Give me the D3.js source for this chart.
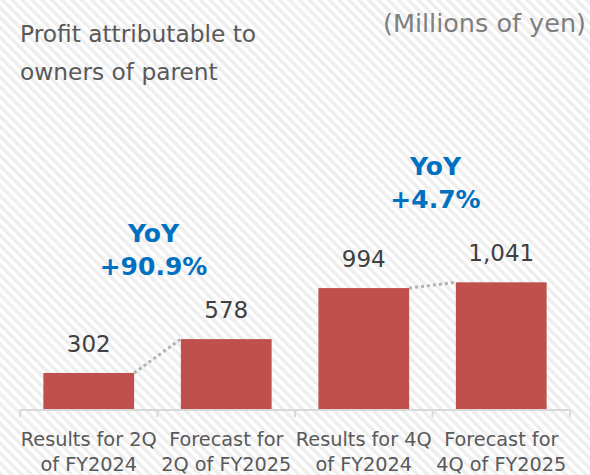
<!DOCTYPE html>
<html>
<head>
<meta charset="utf-8">
<script src="https://cdn.jsdelivr.net/npm/d3@7"></script>
<style>
	body { margin: 0; background: #fff; }
	svg { display: block; font-family: "DejaVu Sans", Verdana, sans-serif; }
</style>
</head>
<body>
<script>
//chart data
var categories = ["Results for 2Q|of FY2024", "Forecast for|2Q of FY2025", "Results for 4Q|of FY2024", "Forecast for|4Q of FY2025"];
var values = [302, 578, 994, 1041];
var valueLabels = ["302", "578", "994", "1,041"];
var yoyLabels = ["+90.9%", "+4.7%"]; //between bar 1-2 and bar 3-4

(function () {
	var width = 590, height = 475;

	var svg = d3.select("body").append("svg")
		.attr("width", width)
		.attr("height", height);

	//striped background
	var defs = svg.append("defs");
	var pat = defs.append("pattern")
		.attr("id", "stripes")
		.attr("patternUnits", "userSpaceOnUse")
		.attr("width", 7)
		.attr("height", 7)
		.attr("patternTransform", "rotate(-45)");
	pat.append("rect").attr("width", 7).attr("height", 7).attr("fill", "#ffffff");
	pat.append("rect").attr("width", 3.5).attr("height", 7).attr("fill", "#eeeeee");

	svg.append("rect")
		.attr("width", width)
		.attr("height", height)
		.attr("fill", "url(#stripes)");

	//scales
	var x = d3.scaleBand()
		.domain(categories)
		.range([20, 570])
		.paddingInner(0.34)
		.paddingOuter(0.17);

	var y = d3.scaleLinear()
		.domain([0, 3000])
		.range([410, 42]);

	//bars
	svg.selectAll(".bar")
		.data(values)
		.enter()
		.append("rect")
		.attr("class", "bar")
		.attr("x", function (d, i) { return x(categories[i]); })
		.attr("y", function (d) { return y(d); })
		.attr("width", x.bandwidth())
		.attr("height", function (d) { return y(0) - y(d); })
		.attr("fill", "#C0504D");

	//dotted connectors 1->2 and 3->4
	[[0, 1], [2, 3]].forEach(function (p) {
		svg.append("line")
			.attr("x1", x(categories[p[0]]) + x.bandwidth())
			.attr("y1", y(values[p[0]]))
			.attr("x2", x(categories[p[1]]))
			.attr("y2", y(values[p[1]]))
			.attr("stroke", "#b3b3b3")
			.attr("stroke-width", 3)
			.attr("stroke-dasharray", "3,3");
	});

	//axis
	var axis = svg.append("g").attr("transform", "translate(0,410)");
	axis.append("line")
		.attr("x1", 20).attr("x2", 570)
		.attr("stroke", "#d9d9d9").attr("stroke-width", 2);
	var step = x.step();
	d3.range(categories.length + 1).forEach(function (i) {
		var tx = 20 + i * step;
		axis.append("line")
			.attr("x1", tx).attr("x2", tx)
			.attr("y1", 0).attr("y2", 7)
			.attr("stroke", "#d9d9d9").attr("stroke-width", 2);
	});

	//category labels
	var cat = svg.selectAll(".cat")
		.data(categories)
		.enter()
		.append("text")
		.attr("class", "cat")
		.attr("text-anchor", "middle")
		.attr("font-size", 19.3)
		.attr("fill", "#595959");
	cat.each(function (d) {
		var t = d3.select(this);
		var cx = x(d) + x.bandwidth() / 2;
		d.split("|").forEach(function (line, j) {
			t.append("tspan")
				.attr("x", cx)
				.attr("y", 446 + j * 25)
				.text(line);
		});
	});

	//value labels
	svg.selectAll(".val")
		.data(values)
		.enter()
		.append("text")
		.attr("class", "val")
		.attr("text-anchor", "middle")
		.attr("font-size", 23)
		.attr("fill", "#404040")
		.attr("x", function (d, i) { return x(categories[i]) + x.bandwidth() / 2; })
		.attr("y", function (d) { return y(d) - 21; })
		.text(function (d, i) { return valueLabels[i]; });

	//YoY annotations
	var yoyOffsets = [64, 74];
	var yoyShift = [-4, 3];
	yoyLabels.forEach(function (lab, k) {
		var i = k * 2 + 1;
		var cx = x(categories[i]) - (step - x.bandwidth()) / 2 + yoyShift[k];
		var base = y(values[i]) - yoyOffsets[k];
		var g = svg.append("text")
			.attr("text-anchor", "middle")
			.attr("font-size", 25)
			.attr("font-weight", "bold")
			.attr("fill", "#0070C0");
		g.append("tspan").attr("x", cx).attr("y", base - 33).text("YoY");
		g.append("tspan").attr("x", cx).attr("y", base).text(lab);
	});

	//titles
	var title = svg.append("text")
		.attr("font-size", 23.3)
		.attr("fill", "#595959");
	title.append("tspan").attr("x", 20).attr("y", 42).text("Profit attributable to");
	title.append("tspan").attr("x", 20).attr("y", 80).text("owners of parent");

	svg.append("text")
		.attr("x", 586)
		.attr("y", 32)
		.attr("text-anchor", "end")
		.attr("font-size", 25.5)
		.attr("fill", "#7f7f7f")
		.text("(Millions of yen)");
})();
</script>
</body>
</html>
